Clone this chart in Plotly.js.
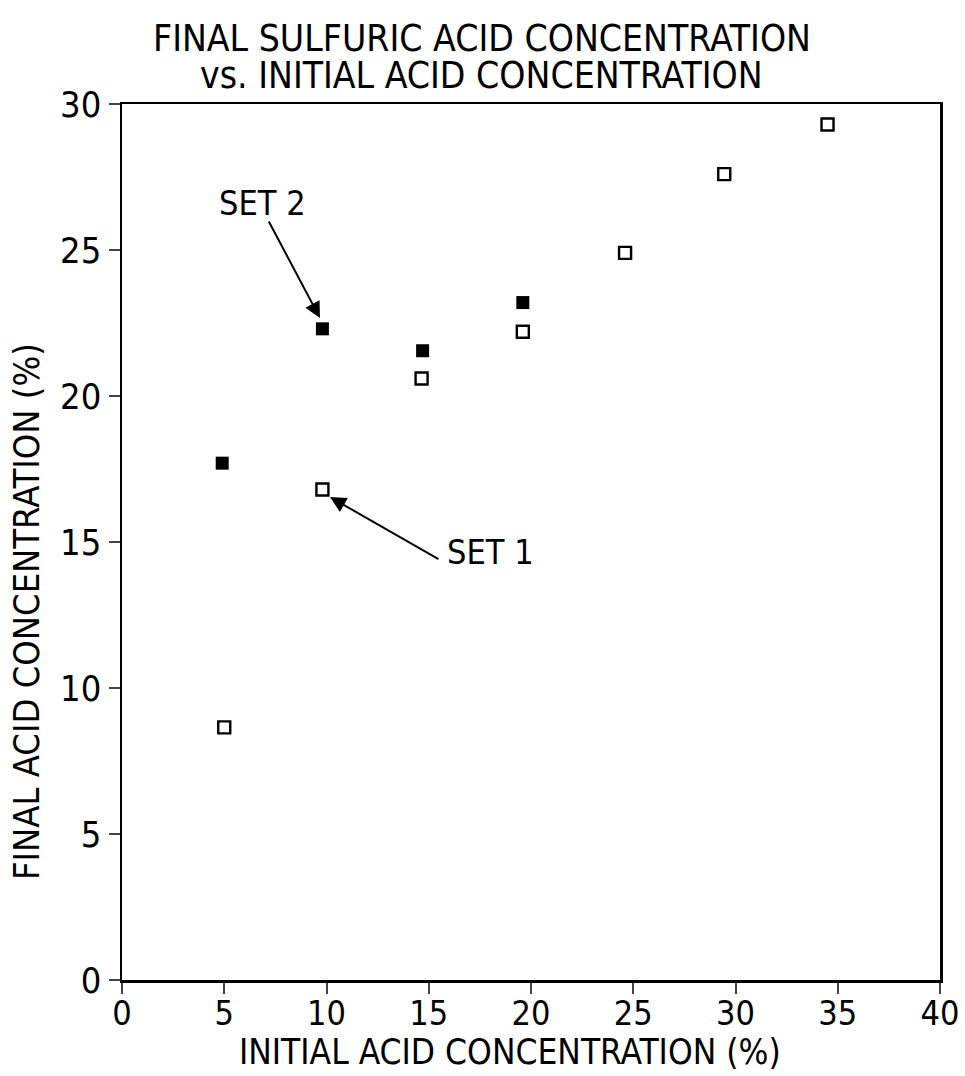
<!DOCTYPE html>
<html>
<head>
<meta charset="utf-8">
<script src="https://cdn.plot.ly/plotly-3.0.1.min.js"></script>
<style>html,body{margin:0;padding:0;background:#fff;}#chart{width:965px;height:1076px;}</style>
</head>
<body>
<div id="chart"></div>
<script>
// Set 1 (open squares)
const set1X = [5.0, 9.8, 14.65, 19.6, 24.6, 29.45, 34.5];
const set1Y = [8.65, 16.8, 20.6, 22.2, 24.9, 27.6, 29.3];
// Set 2 (filled squares)
const set2X = [4.9, 9.8, 14.7, 19.6];
const set2Y = [17.7, 22.3, 21.55, 23.2];
const xTicks = [0, 5, 10, 15, 20, 25, 30, 35, 40];
const yTicks = [0, 5, 10, 15, 20, 25, 30];

const FONT = '"Liberation Sans Narrow", "DejaVu Sans Condensed", Arial, sans-serif';

const traces = [
  {x: set1X, y: set1Y, type: 'scatter', mode: 'markers', name: 'SET 1',
   marker: {symbol: 'square-open', size: 12, color: '#000', line: {width: 2.4, color: '#000'}}},
  {x: set2X, y: set2Y, type: 'scatter', mode: 'markers', name: 'SET 2',
   marker: {symbol: 'square', size: 13, color: '#000', line: {width: 0}}}
];

const layout = {
  width: 965, height: 1076,
  margin: {l: 122, r: 25, t: 104, b: 96},
  paper_bgcolor: '#fff', plot_bgcolor: '#fff',
  showlegend: false,
  font: {family: FONT, color: '#000', size: 30},
  xaxis: {range: [0, 40], tickvals: xTicks, ticks: 'outside', ticklen: 11, tickwidth: 2,
          ticklabelstandoff: -9,
          showline: true, linewidth: 2.5, linecolor: '#000', mirror: true, showgrid: false,
          zeroline: false, tickfont: {size: 34, family: FONT, color: '#000'}},
  yaxis: {range: [0, 30], tickvals: yTicks, ticks: 'outside', ticklen: 11, tickwidth: 2,
          ticklabelstandoff: 0,
          showline: true, linewidth: 2.5, linecolor: '#000', mirror: true, showgrid: false,
          zeroline: false, tickfont: {size: 36, family: FONT, color: '#000'}},
  annotations: [
    {xref: 'paper', yref: 'paper', x: 0.44, y: 1, yshift: 66, xanchor: 'center', yanchor: 'middle',
     text: 'FINAL SULFURIC ACID CONCENTRATION',
     showarrow: false, font: {size: 37, family: FONT, color: '#000'}},
    {xref: 'paper', yref: 'paper', x: 0.44, y: 1, yshift: 29, xanchor: 'center', yanchor: 'middle',
     text: 'vs. INITIAL ACID CONCENTRATION',
     showarrow: false, font: {size: 37, family: FONT, color: '#000'}},
    {xref: 'paper', yref: 'paper', x: 0.474, y: 0, yshift: -72, xanchor: 'center', yanchor: 'middle',
     text: 'INITIAL ACID CONCENTRATION (%)', showarrow: false, font: {size: 35, family: FONT, color: '#000'}},
    {xref: 'paper', yref: 'paper', x: 0, xshift: -96, y: 0.42, xanchor: 'center', yanchor: 'middle',
     text: 'FINAL ACID CONCENTRATION (%)', textangle: -90, showarrow: false,
     font: {size: 36, family: FONT, color: '#000'}},
    {x: 6.85, y: 26.6, text: 'SET 2', showarrow: false, font: {size: 34, family: FONT, color: '#000'}},
    {x: 18.0, y: 14.66, text: 'SET 1', showarrow: false, font: {size: 34, family: FONT, color: '#000'}},
    {x: 9.68, y: 22.67, ax: 7.14, ay: 26.03, axref: 'x', ayref: 'y', text: '', showarrow: true,
     arrowhead: 2, arrowsize: 1.6, arrowwidth: 2, arrowcolor: '#000'},
    {x: 10.17, y: 16.54, ax: 15.55, ay: 14.38, axref: 'x', ayref: 'y', text: '', showarrow: true,
     arrowhead: 2, arrowsize: 1.6, arrowwidth: 2, arrowcolor: '#000'}
  ]
};

Plotly.newPlot('chart', traces, layout, {displayModeBar: false, staticPlot: true});
</script>
</body>
</html>
